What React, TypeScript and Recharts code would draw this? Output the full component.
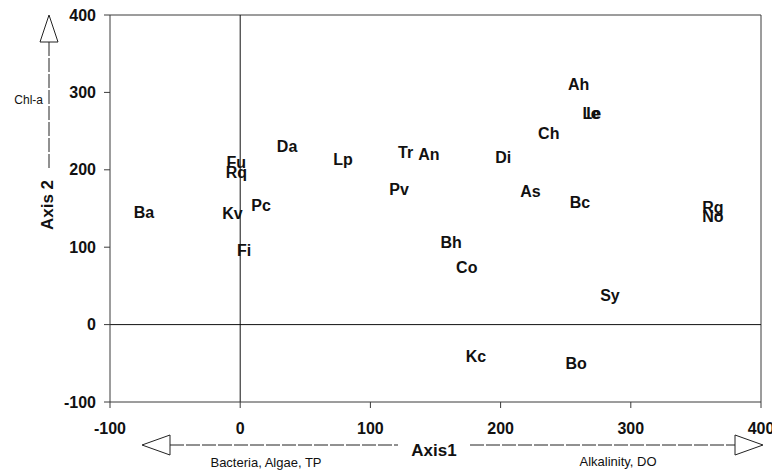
import React from "react";
import {
  ReferenceLine,
  Scatter,
  ScatterChart,
  XAxis,
  YAxis,
} from "recharts";

// site codes with their ordination scores
const sites = [
  "Ba", "Fu", "Rq", "Kv", "Pc", "Fi", "Da", "Lp", "Tr", "An", "Pv", "Bh",
  "Co", "Di", "Ah", "Le", "Ie", "Ch", "As", "Bc", "Rg", "No", "Sy", "Kc", "Bo",
];
const axis1 = [
  -74, -3, -3, -6, 16, 3, 36, 79, 127, 145, 122, 162,
  174, 202, 260, 270, 271, 237, 223, 261, 363, 363, 284, 181, 258,
];
const axis2 = [
  145, 209, 196, 143, 154, 96, 230, 213, 222, 220, 174, 106,
  74, 216, 310, 273, 273, 247, 172, 158, 151, 140, 37, -41, -50,
];
const axisTicks = [-100, 0, 100, 200, 300, 400];

const data = sites.map((name, i) => ({ name, x: axis1[i], y: axis2[i] }));

const font = "'Liberation Sans', Arial, sans-serif";
const frame = "#3a3a3a";

const SiteLabel = (props: any) => {
  const { cx, cy, payload } = props;
  return (
    <text
      x={cx}
      y={cy}
      textAnchor="middle"
      dominantBaseline="central"
      fontFamily={font}
      fontWeight="bold"
      fontSize={16}
      fill="#111"
    >
      {payload.name}
    </text>
  );
};

const tickStyle = {
  fontFamily: font,
  fontWeight: "bold" as const,
  fontSize: 16,
  fill: "#111",
};

export default function App() {
  return (
    <div style={{ position: "absolute", left: 0, top: 0, width: 772, height: 472 }}>
      <ScatterChart
        width={772}
        height={472}
        margin={{ top: 15, right: 11, bottom: 40, left: 50 }}
      >
        <XAxis
          type="number"
          dataKey="x"
          domain={[-100, 400]}
          ticks={axisTicks}
          height={30}
          tickSize={6}
          tickMargin={15}
          stroke={frame}
          tick={tickStyle}
          interval={0}
        />
        <YAxis
          type="number"
          dataKey="y"
          domain={[-100, 400]}
          ticks={axisTicks}
          width={60}
          tickSize={6}
          tickMargin={8}
          stroke={frame}
          tick={tickStyle}
          interval={0}
        />
        <ReferenceLine y={400} stroke={frame} />
        <ReferenceLine x={400} stroke={frame} />
        <ReferenceLine y={0} stroke="#111" />
        <ReferenceLine x={0} stroke="#111" />
        <Scatter data={data} shape={SiteLabel} isAnimationActive={false} />
      </ScatterChart>
      <svg
        width={772}
        height={472}
        style={{ position: "absolute", left: 0, top: 0, pointerEvents: "none" }}
      >
        {/* vertical axis arrow */}
        <line x1={49} y1={42} x2={49} y2={170} stroke="#222" strokeDasharray="14 2" />
        <polygon points="49,15 40,42 58,42" fill="#fff" stroke="#222" />
        <text x={43} y={104} textAnchor="end" fontFamily={font} fontSize={12} fill="#111">
          Chl-a
        </text>
        <text
          x={47}
          y={205}
          transform="rotate(-90 47 205)"
          textAnchor="middle"
          dominantBaseline="central"
          fontFamily={font}
          fontWeight="bold"
          fontSize={17}
          fill="#111"
        >
          Axis 2
        </text>

        {/* horizontal axis arrow */}
        <line x1={170} y1={445} x2={398} y2={445} stroke="#222" strokeDasharray="14 2" />
        <line x1={470} y1={445} x2={735} y2={445} stroke="#222" strokeDasharray="14 2" />
        <polygon points="142,445 170,435 170,455" fill="#fff" stroke="#222" />
        <polygon points="763,445 735,435 735,455" fill="#fff" stroke="#222" />
        <text
          x={434}
          y={450}
          textAnchor="middle"
          dominantBaseline="central"
          fontFamily={font}
          fontWeight="bold"
          fontSize={17}
          fill="#111"
        >
          Axis1
        </text>
        <text x={266} y={467} textAnchor="middle" fontFamily={font} fontSize={13} fill="#111">
          Bacteria, Algae, TP
        </text>
        <text x={618} y={466} textAnchor="middle" fontFamily={font} fontSize={13} fill="#111">
          Alkalinity, DO
        </text>
      </svg>
    </div>
  );
}
